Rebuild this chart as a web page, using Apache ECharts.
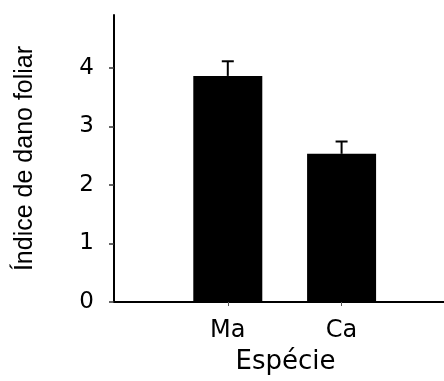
<!DOCTYPE html>
<html>
<head>
<meta charset="utf-8">
<script src="https://cdn.jsdelivr.net/npm/echarts@6/dist/echarts.min.js"></script>
<style>html,body{margin:0;padding:0;background:#fff}#c{width:444px;height:381px}</style>
</head>
<body>
<div id="c"></div>
<script>
var categories = ['Ma', 'Ca'];
var means = [3.86, 2.53];
var errors = [0.25, 0.21];
var yTicks = [0, 1, 2, 3, 4];
var yTitle = 'Índice de dano foliar';
var xTitle = 'Espécie';

var catPos = categories.map(function (c, i) { return i + 1; });
var barData = categories.map(function (c, i) { return [catPos[i], means[i]]; });
var errData = categories.map(function (c, i) { return [catPos[i], means[i], means[i] + errors[i]]; });

var chart = echarts.init(document.getElementById('c'), null, {renderer: 'canvas'});
var font = 'Liberation Sans, Arial, sans-serif';
var wide = '"DejaVu Sans", sans-serif';
chart.setOption({
  animation: false,
  backgroundColor: '#ffffff',
  grid: {left: 114, right: 0, top: 15, bottom: 79, containLabel: false, outerBoundsMode: 'none'},
  xAxis: {
    type: 'value', min: 0, max: 2.9,
    splitLine: {show: false},
    axisLine: {show: true, onZero: false, lineStyle: {color: '#000', width: 2}},
    axisTick: {show: true, customValues: catPos, length: 4, lineStyle: {color: '#555', width: 1}},
    axisLabel: {customValues: catPos, margin: 17, color: '#000', fontFamily: wide, fontSize: 24,
      formatter: function (v) { return categories[Math.round(v) - 1] || ''; }},
    name: xTitle, nameLocation: 'middle', nameGap: 47,
    nameTextStyle: {color: '#000', fontFamily: wide, fontSize: 26, padding: [0, 0, 0, 13]}
  },
  yAxis: {
    type: 'value', min: 0, max: 4.9,
    splitLine: {show: false},
    axisLine: {show: true, lineStyle: {color: '#000', width: 2}},
    axisTick: {show: true, customValues: yTicks, length: 5, lineStyle: {color: '#333', width: 1.5}},
    axisLabel: {customValues: yTicks, margin: 20, color: '#000', fontFamily: wide, fontSize: 23},
    name: yTitle, nameLocation: 'middle', nameGap: 76, nameRotate: 90,
    nameTextStyle: {color: '#000', fontFamily: font, fontSize: 25}
  },
  series: [
    {
      type: 'bar', data: barData, barWidth: 69,
      itemStyle: {color: '#000'}, z: 2
    },
    {
      type: 'custom', data: errData, z: 3,
      renderItem: function (params, api) {
        var x = api.coord([api.value(0), api.value(1)]);
        var top = api.coord([api.value(0), api.value(2)]);
        var hw = 6;
        return {
          type: 'group',
          children: [
            {type: 'line', shape: {x1: x[0], y1: x[1], x2: top[0], y2: top[1]}, style: {stroke: '#000', lineWidth: 2}},
            {type: 'line', shape: {x1: top[0] - hw, y1: top[1], x2: top[0] + hw, y2: top[1]}, style: {stroke: '#000', lineWidth: 2}}
          ]
        };
      }
    }
  ]
});
</script>
</body>
</html>
